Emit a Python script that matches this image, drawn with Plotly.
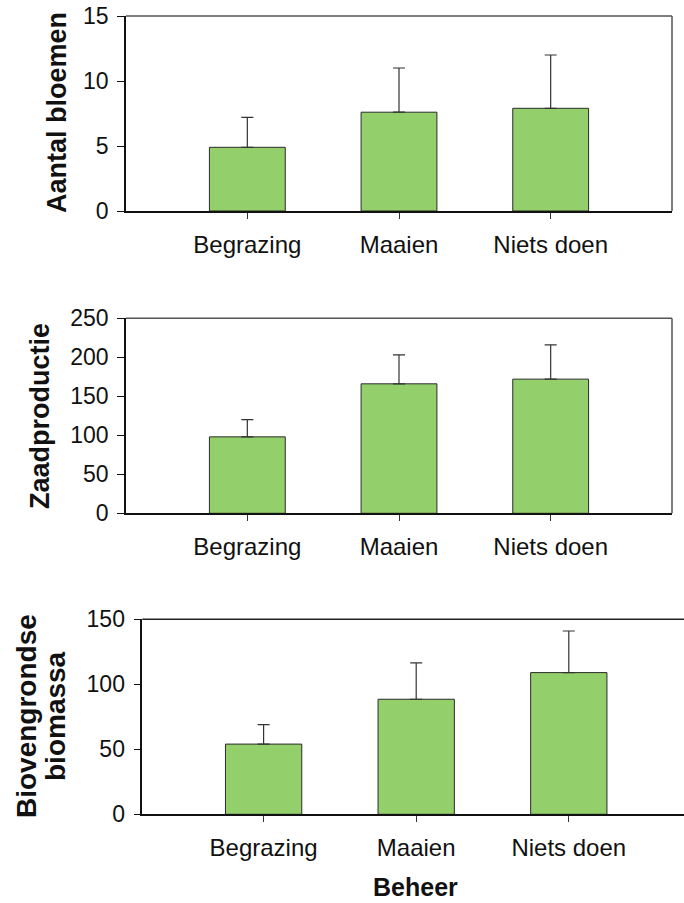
import plotly.graph_objects as go

# Treatments (beheer) and measured responses: mean and upper error length
categories = ["Begrazing", "Maaien", "Niets doen"]

bloemen_mean = [4.9, 7.6, 7.9]
bloemen_err = [2.3, 3.4, 4.1]

zaad_mean = [98, 166, 172]
zaad_err = [22, 37, 44]

biomassa_mean = [54, 88.5, 109]
biomassa_err = [15, 28, 32]

y_ticks_bloemen = [0, 5, 10, 15]
y_ticks_zaad = [0, 50, 100, 150, 200, 250]
y_ticks_biomassa = [0, 50, 100, 150]

W, H = 684, 903
BAR_COLOR = "#93D06B"
EDGE = "#2b2b2b"
FONT = "Liberation Sans, Arial, sans-serif"


def px_x(v):
    return v / W


def px_y(v):
    return 1 - v / H


panels = [
    # (means, errors, ticks, y range, x domain px, y domain px, x range)
    (bloemen_mean, bloemen_err, y_ticks_bloemen, [0, 15], (126, 672), (16, 211), [-0.8, 2.8]),
    (zaad_mean, zaad_err, y_ticks_zaad, [0, 250], (126, 672), (318.3, 513.3), [-0.8, 2.8]),
    (biomassa_mean, biomassa_err, y_ticks_biomassa, [0, 150], (142.3, 684), (619.3, 814.3), [-0.795, 2.755]),
]

fig = go.Figure()
layout = {}
shapes = []

for i, (mean, err, ticks, yr, xd, yd, xr) in enumerate(panels, start=1):
    xa = "x" if i == 1 else f"x{i}"
    ya = "y" if i == 1 else f"y{i}"
    fig.add_trace(go.Bar(
        x=categories,
        y=mean,
        width=0.5,
        marker=dict(color=BAR_COLOR, line=dict(color=EDGE, width=1)),
        error_y=dict(type="data", array=err, arrayminus=[0] * len(err),
                     symmetric=False, color="#333333", thickness=1.2, width=6),
        xaxis=xa, yaxis=ya, showlegend=False, hoverinfo="skip",
    ))
    xkey = "xaxis" if i == 1 else f"xaxis{i}"
    ykey = "yaxis" if i == 1 else f"yaxis{i}"
    layout[xkey] = dict(
        domain=[px_x(xd[0]), px_x(xd[1])],
        anchor=ya,
        type="category",
        range=xr,
        showline=True, linecolor="#111111", linewidth=1.8,
        ticks="outside", ticklen=6, tickcolor="#333333", tickwidth=1,
        ticklabelstandoff=5,
        tickfont=dict(family=FONT, size=24, color="#111111"),
        showgrid=False, zeroline=False, fixedrange=True, automargin=False,
    )
    layout[ykey] = dict(
        domain=[px_y(yd[1]), px_y(yd[0])],
        anchor=xa,
        range=yr,
        tickvals=ticks,
        ticktext=[str(t) for t in ticks],
        showline=True, linecolor="#111111", linewidth=1.5,
        ticks="outside", ticklen=7, tickcolor="#111111", tickwidth=1,
        ticklabelstandoff=4,
        tickfont=dict(family=FONT, size=23, color="#111111"),
        showgrid=False, zeroline=False, fixedrange=True, automargin=False,
    )
    # top and right frame lines of the plot area
    frame_col = "#555555" if i < 3 else "#222222"
    shapes.append(dict(type="line", xref=f"{xa} domain", yref=f"{ya} domain",
                       x0=0, x1=1, y0=1, y1=1,
                       line=dict(color=frame_col, width=1.5)))
    if i < 3:
        shapes.append(dict(type="line", xref=f"{xa} domain", yref=f"{ya} domain",
                           x0=1, x1=1, y0=0, y1=1,
                           line=dict(color=frame_col, width=1.5)))


def ytitle(text, x, y, size):
    return dict(text=f"<b>{text}</b>", x=px_x(x), y=px_y(y), xref="paper", yref="paper",
                textangle=-90, showarrow=False, xanchor="center", yanchor="middle",
                font=dict(family=FONT, size=size, color="#111111"))


annotations = [
    ytitle("Aantal bloemen", 57, 113, 27),
    ytitle("Zaadproductie", 40, 416, 27),
    ytitle("Biovengrondse", 26, 716, 28),
    ytitle("biomassa", 55, 716, 28),
    dict(text="<b>Beheer</b>", x=px_x(415), y=px_y(887), xref="paper", yref="paper",
         showarrow=False, xanchor="center", yanchor="middle",
         font=dict(family=FONT, size=25, color="#111111")),
]

fig.update_layout(
    width=W, height=H,
    margin=dict(l=0, r=0, t=0, b=0, autoexpand=False),
    paper_bgcolor="white", plot_bgcolor="white",
    bargap=0.5,
    shapes=shapes,
    annotations=annotations,
    **layout,
)

fig.write_html("out.html", include_plotlyjs=True, config={"displayModeBar": False})
